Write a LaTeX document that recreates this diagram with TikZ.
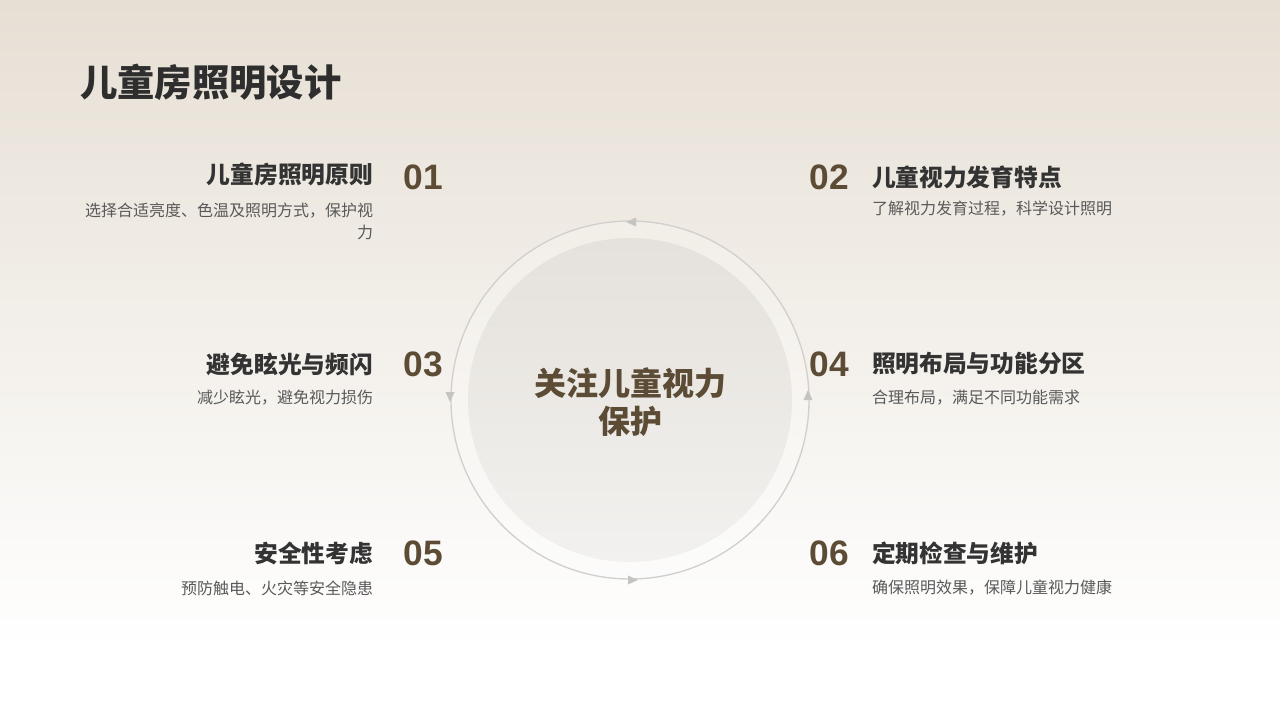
\documentclass[tikz,border=0pt]{standalone}
\usepackage{fontspec}
\setmainfont{Noto Sans CJK SC}
\newfontfamily\numfont{Liberation Sans}
\definecolor{bgtop}{HTML}{E6DFD4}
\definecolor{ttl}{HTML}{2E2E2E}
\definecolor{hd}{HTML}{333333}
\definecolor{dsc}{HTML}{595959}
\definecolor{brn}{HTML}{5C4B35}
\definecolor{ring}{HTML}{D2CFCC}
\definecolor{arw}{HTML}{C6C4C2}
\definecolor{intop}{HTML}{E5E1DB}
\definecolor{inbot}{HTML}{F2F1EF}
\begin{document}
\begin{tikzpicture}[x=0.75pt,y=-0.75pt,
  every node/.style={inner sep=0pt,outer sep=0pt},
  titletext/.style={font=\fontsize{28}{33}\selectfont\bfseries,text=ttl,anchor=west},
  headtext/.style={font=\fontsize{17.8}{21}\selectfont\bfseries,text=hd},
  desctext/.style={font=\fontsize{12}{16.5}\selectfont,text=dsc},
  numtext/.style={font=\fontsize{26.5}{30}\selectfont\numfont\bfseries,text=brn},
  centertext/.style={font=\fontsize{24}{28.5}\selectfont\bfseries,text=brn,align=center},
  arrowhead/.style={fill=arw,draw=none}]
\useasboundingbox (0,0) rectangle (1280,720);
% background
\shade[top color=bgtop,bottom color=white] (0,0) rectangle (1280,650);
\fill[white] (0,650) rectangle (1280,720);
% title
\node[titletext] (title) at (80,82) {儿童房照明设计};
% center ring
\coordinate (c) at (630,400);
\fill[white,opacity=0.2] (c) circle[radius=179];
\draw[ring,line width=1pt] (c) circle[radius=179];
\shade[top color=intop,bottom color=inbot] (c) circle[radius=162];
\node[centertext] (center) at (630,402) {关注儿童视力\\保护};
% arrowheads
\coordinate (at) at (631,222);
\coordinate (al) at (450,397);
\coordinate (ar) at (808,395);
\coordinate (ab) at (633,580);
\fill[arrowhead] ([shift={(-5,0)}]at) -- ([shift={(5,-4.5)}]at) -- ([shift={(5,4.5)}]at) -- cycle;
\fill[arrowhead] ([shift={(0,5)}]al) -- ([shift={(-4.5,-5)}]al) -- ([shift={(4.5,-5)}]al) -- cycle;
\fill[arrowhead] ([shift={(0,-5)}]ar) -- ([shift={(-4.5,5)}]ar) -- ([shift={(4.5,5)}]ar) -- cycle;
\fill[arrowhead] ([shift={(5,0)}]ab) -- ([shift={(-5,-4.5)}]ab) -- ([shift={(-5,4.5)}]ab) -- cycle;
% left items
\node[headtext,anchor=east] (h1) at (373,174) {儿童房照明原则};
\node[desctext,anchor=north east,align=right] (d1) at (373,203) {选择合适亮度、色温及照明方式，保护视\\力};
\node[numtext] (n1) at (423,177) {01};
\node[headtext,anchor=east] (h3) at (373,364) {避免眩光与频闪};
\node[desctext,anchor=east] (d3) at (373,398) {减少眩光，避免视力损伤};
\node[numtext] (n3) at (423,364) {03};
\node[headtext,anchor=east] (h5) at (373,553) {安全性考虑};
\node[desctext,anchor=east] (d5) at (373,588) {预防触电、火灾等安全隐患};
\node[numtext] (n5) at (423,553) {05};
% right items
\node[numtext] (n2) at (829,177) {02};
\node[headtext,anchor=west] (h2) at (872,177) {儿童视力发育特点};
\node[desctext,anchor=west] (d2) at (872,209) {了解视力发育过程，科学设计照明};
\node[numtext] (n4) at (829,364) {04};
\node[headtext,anchor=west] (h4) at (872,364) {照明布局与功能分区};
\node[desctext,anchor=west] (d4) at (872,398) {合理布局，满足不同功能需求};
\node[numtext] (n6) at (829,553) {06};
\node[headtext,anchor=west] (h6) at (872,553) {定期检查与维护};
\node[desctext,anchor=west] (d6) at (872,588) {确保照明效果，保障儿童视力健康};
\end{tikzpicture}
\end{document}
